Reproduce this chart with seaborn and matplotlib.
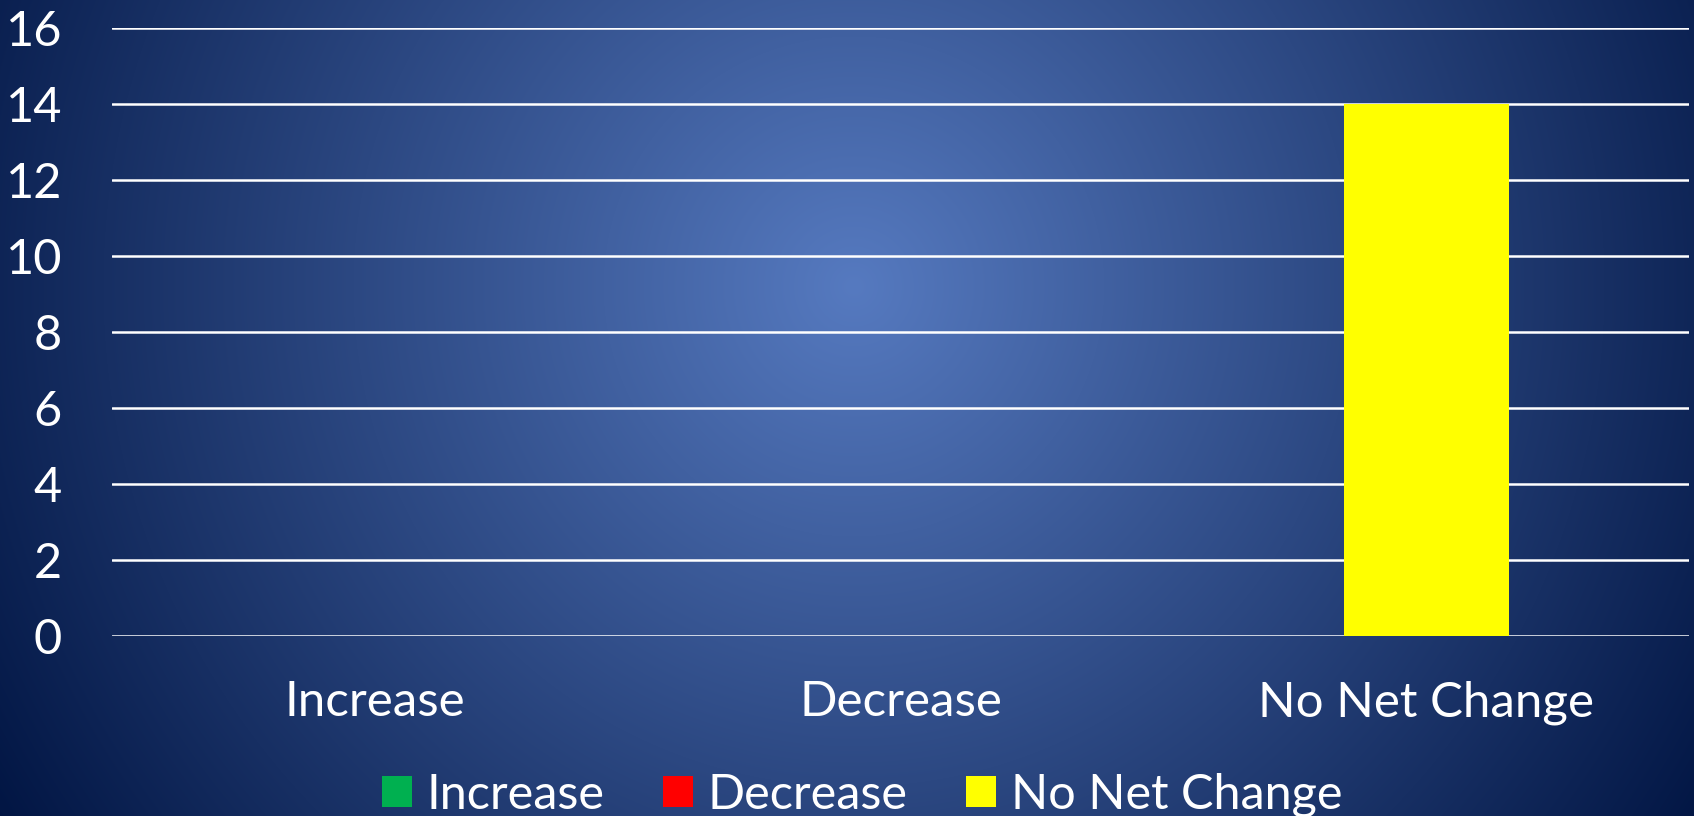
import numpy as np
import pandas as pd
import matplotlib.pyplot as plt
import seaborn as sns
from matplotlib.patches import Patch

sns.set_style("white")
plt.rcParams['font.family'] = ['Lato', 'DejaVu Sans']

# Data
categories = ['Increase', 'Decrease', 'No Net Change']
values = [0, 0, 14]
bar_colors = ['#00B050', '#FF0000', '#FFFF00']
y_ticks = [0, 2, 4, 6, 8, 10, 12, 14, 16]

df = pd.DataFrame({'category': categories, 'count': values})

W, H = 1694, 816
fig = plt.figure(figsize=(W / 100, H / 100), dpi=100)

# radial gradient background
bg = fig.add_axes([0, 0, 1, 1], zorder=-1)
yy, xx = np.mgrid[0:H, 0:W]
r = np.sqrt((xx - 853) ** 2 + (yy - 286) ** 2) / 1000
t = np.clip(r, 0, 1)[..., None]
c_in = np.array([86, 122, 192]) / 255
c_out = np.array([2, 22, 68]) / 255
img = c_in * (1 - t) + c_out * t
bg.imshow(img, aspect='auto', extent=[0, 1, 0, 1])
bg.axis('off')

ax = fig.add_axes([0.0661, 0.2206, 0.9309, 0.7451])
ax.set_facecolor('none')
sns.barplot(data=df, x='category', y='count', hue='category', palette=bar_colors,
            width=0.314, saturation=1, linewidth=0, edgecolor='none',
            legend=False, ax=ax, zorder=3)

ax.set_ylim(0, 16)
ax.set_yticks(y_ticks)
ax.yaxis.grid(True, color='white', linewidth=1.8, zorder=0)
ax.set_axisbelow(True)
for s in ax.spines.values():
    s.set_visible(False)
ax.set_xlabel('')
ax.set_ylabel('')
ax.tick_params(axis='y', colors='white', labelsize=35, length=0, pad=36)
ax.tick_params(axis='x', colors='white', labelsize=35.5, length=0, pad=32)

handles = [Patch(facecolor=c, edgecolor='none', label=l) for c, l in zip(bar_colors, categories)]
fig.legend(handles=handles, loc='lower center', bbox_to_anchor=(0.509, -0.055), ncol=3,
           frameon=False, fontsize=35, labelcolor='white', handlelength=0.62,
           handleheight=0.62, handletextpad=0.3, columnspacing=1.2)

plt.savefig('out.png', dpi=100)
